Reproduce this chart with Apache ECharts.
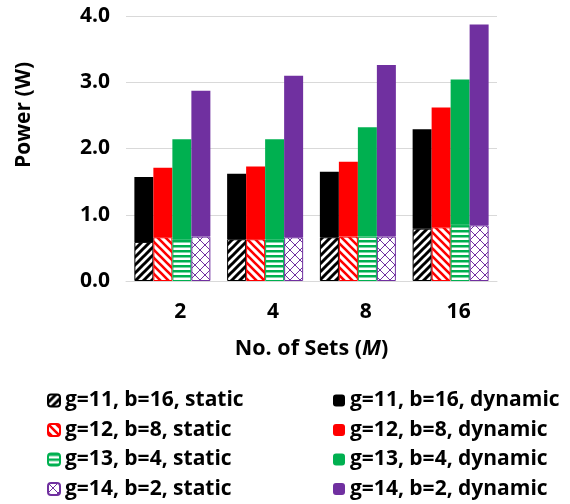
<!DOCTYPE html>
<html>
<head>
<meta charset="utf-8">
<script src="https://cdn.jsdelivr.net/npm/echarts@6.0.0/dist/echarts.min.js"></script>
<style>
  html, body { margin: 0; padding: 0; background: #fff; }
  #chart { width: 570px; height: 504px; }
</style>
</head>
<body>
<div id="chart"></div>
<script>
// x categories (No. of Sets M)
var sets = ['2', '4', '8', '16'];

// static power (W), bottom patterned part of each bar
var static11 = [0.59, 0.63, 0.66, 0.79];
var static12 = [0.66, 0.63, 0.67, 0.81];
var static13 = [0.63, 0.63, 0.67, 0.85];
var static14 = [0.67, 0.66, 0.67, 0.84];

// dynamic power (W), solid part stacked on top
var dynamic11 = [0.98, 0.99, 0.99, 1.50];
var dynamic12 = [1.05, 1.10, 1.13, 1.81];
var dynamic13 = [1.51, 1.51, 1.65, 2.19];
var dynamic14 = [2.20, 2.44, 2.59, 3.03];

var yTicks = [0, 1, 2, 3, 4];

var font = '"Open Sans", Lato, sans-serif';
var black = '#000000', red = '#ff0000', green = '#00b050', purple = '#7030a0';

// little canvas tiles for the hatched fills
function tile(w, h, drawFn) {
  var c = document.createElement('canvas');
  c.width = w; c.height = h;
  var ctx = c.getContext('2d');
  ctx.fillStyle = '#fff';
  ctx.fillRect(0, 0, w, h);
  drawFn(ctx);
  return { image: c, repeat: 'repeat' };
}
var patBlack = tile(8, 8, function (ctx) {
  ctx.strokeStyle = black; ctx.lineWidth = 3;
  ctx.beginPath();
  ctx.moveTo(-2, 10); ctx.lineTo(10, -2);
  ctx.moveTo(-2, 2); ctx.lineTo(2, -2);
  ctx.moveTo(6, 10); ctx.lineTo(10, 6);
  ctx.stroke();
});
var patRed = tile(8, 8, function (ctx) {
  ctx.strokeStyle = red; ctx.lineWidth = 2.6;
  ctx.beginPath();
  ctx.moveTo(-2, -2); ctx.lineTo(10, 10);
  ctx.moveTo(6, -2); ctx.lineTo(10, 2);
  ctx.moveTo(-2, 6); ctx.lineTo(2, 10);
  ctx.stroke();
});
var patGreen = tile(4, 5, function (ctx) {
  ctx.fillStyle = green;
  ctx.fillRect(0, 0, 4, 2.5);
});
var patPurple = tile(10, 10, function (ctx) {
  ctx.strokeStyle = purple; ctx.lineWidth = 1;
  ctx.beginPath();
  ctx.moveTo(0, 0); ctx.lineTo(10, 10);
  ctx.moveTo(10, 0); ctx.lineTo(0, 10);
  ctx.stroke();
});

function bar(name, stack, data, fill, border) {
  return {
    name: name,
    type: 'bar',
    stack: stack,
    data: data,
    barWidth: 19,
    barGap: '0%',
    itemStyle: { color: fill, borderColor: border, borderWidth: border ? 1 : 0 },
    emphasis: { disabled: true }
  };
}

var legendText = { fontSize: 21, fontWeight: 'bold', color: '#000', fontFamily: font, lineHeight: 20 };

var chart = echarts.init(document.getElementById('chart'));
chart.setOption({
  animation: false,
  textStyle: { fontFamily: font },
  grid: { left: 126, right: 73, top: 16, bottom: 223 },
  xAxis: {
    type: 'category',
    data: sets,
    axisTick: { show: false },
    axisLine: { lineStyle: { color: '#d9d9d9', width: 1 } },
    axisLabel: { margin: 21, padding: [0, 0, 0, 16], color: '#000', fontWeight: 'bold', fontSize: 21, fontFamily: font },
    name: '{a|No. of Sets (}{b|M}{a|)}',
    nameLocation: 'middle',
    nameGap: 57,
    nameTextStyle: {
      rich: {
        a: { fontWeight: 'bold', fontSize: 21.5, color: '#000', fontFamily: font },
        b: { fontWeight: 'bold', fontStyle: 'italic', fontSize: 21.5, color: '#000', fontFamily: font }
      }
    }
  },
  yAxis: {
    type: 'value',
    min: yTicks[0],
    max: yTicks[yTicks.length - 1],
    interval: 1,
    axisLine: { show: false },
    axisTick: { show: false },
    splitLine: { lineStyle: { color: '#d9d9d9', width: 1 } },
    axisLabel: {
      margin: 16, color: '#000', fontWeight: 'bold', fontSize: 21, fontFamily: font,
      formatter: function (v) { return v.toFixed(1); }
    }
  },
  graphic: [{
    type: 'text',
    x: 24, y: 115,
    rotation: Math.PI / 2,
    style: {
      text: 'Power (W)', fill: '#000', font: 'bold 21px ' + font,
      align: 'center', verticalAlign: 'middle'
    }
  }],
  legend: [{
    orient: 'vertical',
    left: 47, top: 390, height: 112, padding: 0,
    itemWidth: 12, itemHeight: 12, itemGap: 8.5,
    icon: 'roundRect',
    selectedMode: false,
    textStyle: legendText,
    data: ['g=11, b=16, static', 'g=12, b=8, static', 'g=13, b=4, static', 'g=14, b=2, static']
  }, {
    orient: 'vertical',
    left: 333, top: 390, height: 112, padding: 0,
    itemWidth: 12, itemHeight: 12, itemGap: 8.5,
    icon: 'roundRect',
    selectedMode: false,
    textStyle: legendText,
    data: ['g=11, b=16, dynamic', 'g=12, b=8, dynamic', 'g=13, b=4, dynamic', 'g=14, b=2, dynamic']
  }],
  series: [
    bar('g=11, b=16, static', 'g11', static11, patBlack, black),
    bar('g=12, b=8, static', 'g12', static12, patRed, red),
    bar('g=13, b=4, static', 'g13', static13, patGreen, green),
    bar('g=14, b=2, static', 'g14', static14, patPurple, purple),
    bar('g=11, b=16, dynamic', 'g11', dynamic11, black, null),
    bar('g=12, b=8, dynamic', 'g12', dynamic12, red, null),
    bar('g=13, b=4, dynamic', 'g13', dynamic13, green, null),
    bar('g=14, b=2, dynamic', 'g14', dynamic14, purple, null)
  ]
});
</script>
</body>
</html>
